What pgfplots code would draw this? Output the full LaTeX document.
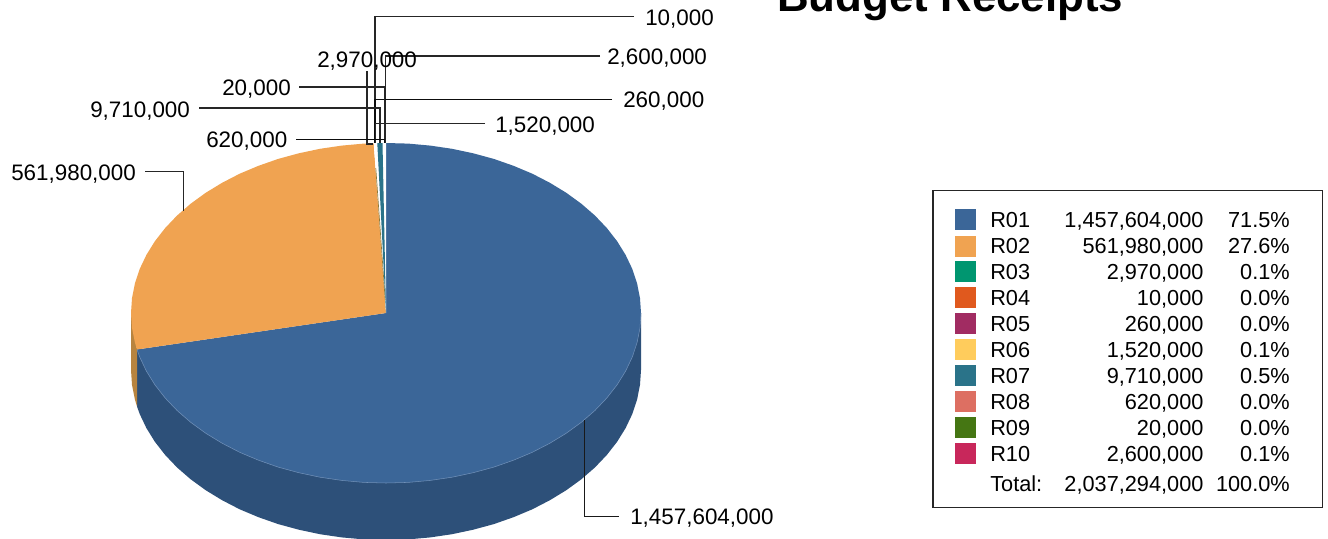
\documentclass[border=0pt]{standalone}
\usepackage{pgfplots}
\pgfplotsset{compat=1.18}
\usepackage{fontspec}
\setmainfont{Liberation Sans}
\definecolor{r01}{HTML}{3B6698}
\definecolor{r02}{HTML}{F0A351}
\definecolor{r03}{HTML}{009670}
\definecolor{r04}{HTML}{E0591E}
\definecolor{r05}{HTML}{A12C62}
\definecolor{r06}{HTML}{FFCC5C}
\definecolor{r07}{HTML}{2A7389}
\definecolor{r08}{HTML}{DD6F62}
\definecolor{r09}{HTML}{457613}
\definecolor{r10}{HTML}{C8275B}
\definecolor{r01side}{HTML}{2D5079}
\definecolor{r02side}{HTML}{B8843F}
\definecolor{rim}{HTML}{7090B8}
\definecolor{seam}{HTML}{8F7A3A}
\newcommand{\lab}[3]{\node[anchor=base west,inner sep=0pt,font=\fontsize{16.8}{20}\selectfont] at (axis cs:#1,#2) {#3};}
\newcommand{\legL}[3]{\node[anchor=base west,inner sep=0pt,font=\fontsize{16.3}{20}\selectfont] at (axis cs:#1,#2) {#3};}
\newcommand{\legR}[3]{\node[anchor=base east,inner sep=0pt,font=\fontsize{16.3}{20}\selectfont] at (axis cs:#1,#2) {#3};}
\begin{document}
\begin{tikzpicture}
\path[use as bounding box,clip] (0,0) rectangle (996pt,404.25pt);
\begin{axis}[
  at={(0,0)},anchor=south west,
  scale only axis,width=996pt,height=404.25pt,
  xmin=0,xmax=1328,ymin=0,ymax=539,y dir=reverse,
  hide axis,clip=false,
  every axis plot/.append style={no markers},
]
% pie walls
\addplot[fill=r01side,draw=none] coordinates {
(641,313)(641,370)(640.0,384.8)(637.1,399.5)(632.3,414.0)(625.6,428.1)(617.1,441.8)(606.8,455.0)(594.9,467.5)(581.3,479.3)(566.3,490.2)(549.9,500.2)(532.3,509.3)(513.5,517.2)(493.8,524.1)(473.2,529.7)(452.0,534.2)(430.3,537.4)(408.2,539.4)(386,540)(363.8,539.4)(341.7,537.4)(320.0,534.2)(298.8,529.7)(278.2,524.1)(258.5,517.2)(239.7,509.3)(222.1,500.2)(205.7,490.2)(190.7,479.3)(177.1,467.5)(165.2,455.0)(154.9,441.8)(146.4,428.1)(139.7,414.0)(137,406.5)(137,349.5)} --cycle;
\addplot[fill=r02side,draw=none] coordinates {
(131,313)(131,370)(132,384.8)(134.9,399.5)(137,406.5)(137,349.5)} --cycle;
% R01 top face
\addplot[fill=r01,draw=none] coordinates {
(386,313)(386,143)(408.2,143.6)(430.3,145.6)(452.0,148.8)(473.2,153.3)(493.8,158.9)(513.5,165.8)(532.3,173.7)(549.9,182.8)(566.3,192.8)(581.3,203.7)(594.9,215.5)(606.8,228.0)(617.1,241.2)(625.6,254.9)(632.3,269.0)(637.1,283.5)(640.0,298.2)(641,313)(640.0,327.8)(637.1,342.5)(632.3,357.0)(625.6,371.1)(617.1,384.8)(606.8,398.0)(594.9,410.5)(581.3,422.3)(566.3,433.2)(549.9,443.2)(532.3,452.3)(513.5,460.2)(493.8,467.1)(473.2,472.7)(452.0,477.2)(430.3,480.4)(408.2,482.4)(386,483)(363.8,482.4)(341.7,480.4)(320.0,477.2)(298.8,472.7)(278.2,467.1)(258.5,460.2)(239.7,452.3)(222.1,443.2)(205.7,433.2)(190.7,422.3)(177.1,410.5)(165.2,398.0)(154.9,384.8)(146.4,371.1)(139.7,357.0)(137,349.5)} --cycle;
% lighter rim along the front edge
\addplot[draw=rim,line width=0.4pt] coordinates {
(641,313)(640.0,327.8)(637.1,342.5)(632.3,357.0)(625.6,371.1)(617.1,384.8)(606.8,398.0)(594.9,410.5)(581.3,422.3)(566.3,433.2)(549.9,443.2)(532.3,452.3)(513.5,460.2)(493.8,467.1)(473.2,472.7)(452.0,477.2)(430.3,480.4)(408.2,482.4)(386,483)(363.8,482.4)(341.7,480.4)(320.0,477.2)(298.8,472.7)(278.2,467.1)(258.5,460.2)(239.7,452.3)(222.1,443.2)(205.7,433.2)(190.7,422.3)(177.1,410.5)(165.2,398.0)(154.9,384.8)(146.4,371.1)(139.7,357.0)(137,349.5)};
% R02 top face
\addplot[fill=r02,draw=none] coordinates {
(386,313)(137,349.5)(134.9,342.5)(132.0,327.8)(131,313)(132.0,298.2)(134.9,283.5)(139.7,269.0)(146.4,254.9)(154.9,241.2)(165.2,228.0)(177.1,215.5)(190.7,203.7)(205.7,192.8)(222.1,182.8)(239.7,173.7)(258.5,165.8)(278.2,158.9)(298.8,153.3)(320.0,148.8)(341.7,145.6)(363.8,143.6)(373.7,143.3)} --cycle;
% gap and R07 wedge near the top
\addplot[fill=white,draw=none] coordinates {(386,313)(373.7,143.3)(386,143)} --cycle;
\addplot[draw=seam,line width=0.5pt] coordinates {(375.8,168)(385.2,300)};
\addplot[fill=r07,draw=none] coordinates {(386,313)(377.3,143.1)(382.5,143)} --cycle;
% leader lines
\addplot[black!85,line width=0.8pt] coordinates {(634,16.5)(375,16.5)(375,143)};
\addplot[black!85,line width=0.8pt] coordinates {(600,56)(385.5,56)(385.5,143)};
\addplot[black!95,line width=0.8pt] coordinates {(612,99.5)(375,99.5)(375,143)};
\addplot[black!85,line width=0.8pt] coordinates {(485,123.5)(375.5,123.5)(375.5,143)};
\addplot[black!85,line width=0.8pt] coordinates {(367,71)(367,144)(373,144)};
\addplot[black!85,line width=0.8pt] coordinates {(299,87)(384.5,87)(384.5,143)};
\addplot[black!85,line width=0.8pt] coordinates {(199,108)(380,108)(380,143)};
\addplot[black!95,line width=0.8pt] coordinates {(296,139.5)(384.5,139.5)(384.5,143)};
\addplot[black!85,line width=0.8pt] coordinates {(145,171.7)(183.4,171.7)(183.4,211)};
\addplot[black!90,line width=0.8pt] coordinates {(584.5,420)(584.5,516.7)(619,516.7)};
% slice labels
\lab{645}{25}{10,000}
\lab{607}{64}{2,600,000}
\lab{623}{107.5}{260,000}
\lab{495}{132}{1,520,000}
\lab{317}{67}{2,970,000}
\lab{222}{95}{20,000}
\lab{90}{117}{9,710,000}
\lab{206}{147}{620,000}
\lab{11}{180}{561,980,000}
\lab{630}{524.5}{1,457,604,000}
% title
\node[anchor=base west,inner sep=0pt,font=\fontsize{32.9}{38}\selectfont\bfseries] at (axis cs:777,11.5) {Budget Receipts};
% legend frame
\addplot[fill=white,draw=black!85,line width=0.8pt] coordinates {(933,190.7)(1322.7,190.7)(1322.7,507.3)(933,507.3)} --cycle;
% legend swatches
\addplot[fill=r01,draw=none] coordinates {(955,209)(976,209)(976,229.7)(955,229.7)} --cycle;
\addplot[fill=r02,draw=none] coordinates {(955,235.7)(976,235.7)(976,256.7)(955,256.7)} --cycle;
\addplot[fill=r03,draw=none] coordinates {(955,261)(976,261)(976,282)(955,282)} --cycle;
\addplot[fill=r04,draw=none] coordinates {(955,287)(976,287)(976,308)(955,308)} --cycle;
\addplot[fill=r05,draw=none] coordinates {(955,313)(976,313)(976,334)(955,334)} --cycle;
\addplot[fill=r06,draw=none] coordinates {(955,339)(976,339)(976,360)(955,360)} --cycle;
\addplot[fill=r07,draw=none] coordinates {(955,365)(976,365)(976,386)(955,386)} --cycle;
\addplot[fill=r08,draw=none] coordinates {(955,391)(976,391)(976,412)(955,412)} --cycle;
\addplot[fill=r09,draw=none] coordinates {(955,417)(976,417)(976,438)(955,438)} --cycle;
\addplot[fill=r10,draw=none] coordinates {(955,443)(976,443)(976,464)(955,464)} --cycle;
% legend rows
\legL{990}{227.5}{R01}\legR{1203.7}{227.5}{1,457,604,000}\legR{1290}{227.5}{71.5\%}
\legL{990}{253.5}{R02}\legR{1203.7}{253.5}{561,980,000}\legR{1290}{253.5}{27.6\%}
\legL{990}{279.5}{R03}\legR{1203.7}{279.5}{2,970,000}\legR{1290}{279.5}{0.1\%}
\legL{990}{305.5}{R04}\legR{1203.7}{305.5}{10,000}\legR{1290}{305.5}{0.0\%}
\legL{990}{331}{R05}\legR{1203.7}{331}{260,000}\legR{1290}{331}{0.0\%}
\legL{990}{357}{R06}\legR{1203.7}{357}{1,520,000}\legR{1290}{357}{0.1\%}
\legL{990}{383}{R07}\legR{1203.7}{383}{9,710,000}\legR{1290}{383}{0.5\%}
\legL{990}{409}{R08}\legR{1203.7}{409}{620,000}\legR{1290}{409}{0.0\%}
\legL{990}{435}{R09}\legR{1203.7}{435}{20,000}\legR{1290}{435}{0.0\%}
\legL{990}{461}{R10}\legR{1203.7}{461}{2,600,000}\legR{1290}{461}{0.1\%}
\legL{990}{491.5}{Total:}\legR{1203.7}{491.5}{2,037,294,000}\legR{1290}{491.5}{100.0\%}
\end{axis}
\end{tikzpicture}
\end{document}
